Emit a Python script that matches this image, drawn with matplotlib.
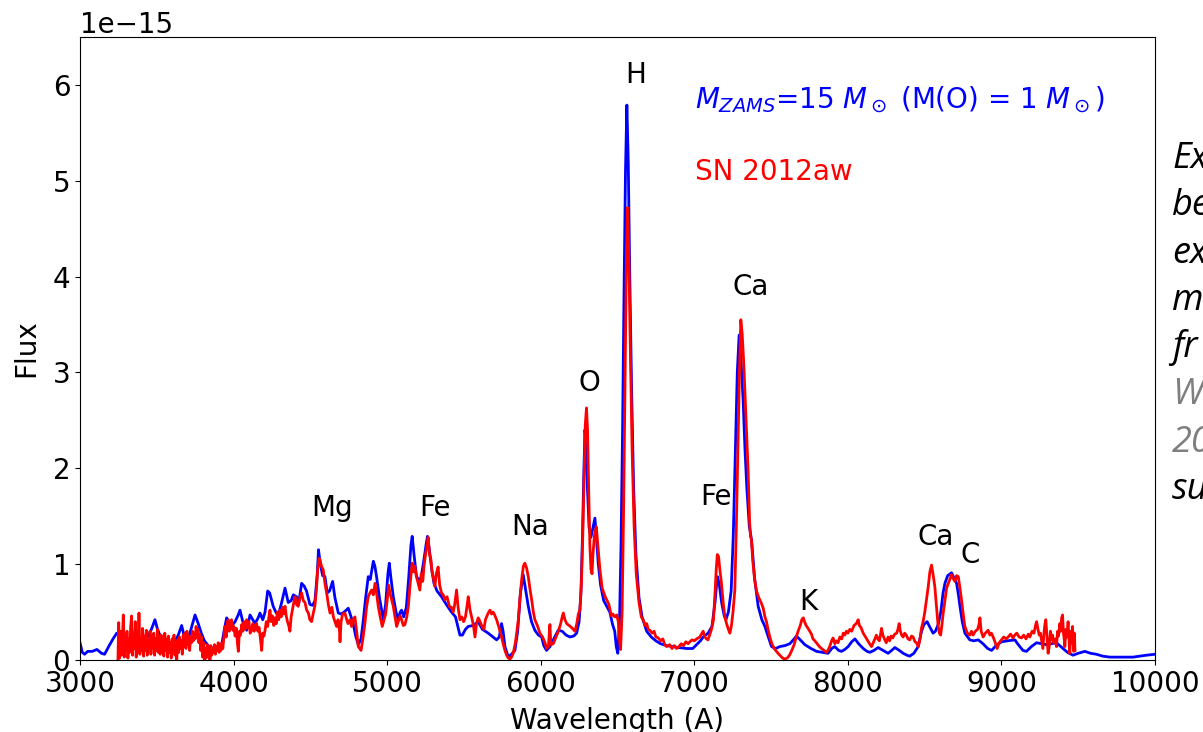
import matplotlib
matplotlib.use("Agg")
import matplotlib.pyplot as plt
import numpy as np

# model spectrum (blue), wavelength in A, flux in 1e-15
model_wave = [
    3000, 3015, 3030, 3050, 3080, 3110, 3140, 3160, 3190, 3215, 3239, 3260, 3290, 3320, 3350, 3380,
    3410, 3440, 3465, 3488, 3505, 3530, 3560, 3590, 3620, 3640, 3662, 3680, 3705, 3730, 3749, 3770,
    3790, 3810, 3840, 3870, 3900, 3925, 3940, 3955, 3975, 3990, 4010, 4030, 4042, 4060, 4085, 4107,
    4125, 4140, 4160, 4172, 4190, 4205, 4222, 4235, 4258, 4275, 4290, 4310, 4335, 4356, 4375, 4389,
    4410, 4425, 4443, 4460, 4475, 4497, 4515, 4530, 4545, 4553, 4565, 4580, 4595, 4610, 4625, 4645,
    4660, 4682, 4700, 4720, 4747, 4765, 4779, 4795, 4812, 4830, 4845, 4860, 4877, 4890, 4910, 4920,
    4931, 4950, 4975, 4990, 5005, 5014, 5025, 5040, 5058, 5072, 5085, 5094, 5108, 5125, 5140, 5155,
    5163, 5175, 5191, 5205, 5220, 5240, 5255, 5263, 5275, 5290, 5305, 5325, 5354, 5385, 5419, 5445,
    5474, 5490, 5510, 5528, 5560, 5593, 5620, 5658, 5690, 5713, 5730, 5745, 5755, 5767, 5789, 5810,
    5832, 5850, 5868, 5886, 5900, 5919, 5940, 5962, 5985, 6006, 6020, 6038, 6060, 6085, 6114, 6140,
    6165, 6190, 6215, 6234, 6250, 6262, 6272, 6280, 6288, 6296, 6304, 6315, 6327, 6340, 6353, 6362,
    6375, 6390, 6410, 6430, 6450, 6468, 6482, 6492, 6502, 6513, 6523, 6533, 6543, 6552, 6561, 6570,
    6580, 6592, 6605, 6620, 6640, 6660, 6690, 6720, 6750, 6780, 6820, 6860, 6900, 6950, 6990, 7015,
    7040, 7058, 7090, 7115, 7135, 7150, 7162, 7178, 7195, 7206, 7222, 7240, 7254, 7266, 7280, 7292,
    7305, 7318, 7330, 7342, 7358, 7373, 7393, 7416, 7440, 7460, 7480, 7503, 7530, 7557, 7590, 7622,
    7645, 7665, 7690, 7720, 7760, 7796, 7835, 7871, 7895, 7915, 7940, 7959, 7980, 8002, 8025, 8046,
    8070, 8100, 8125, 8143, 8170, 8197, 8230, 8262, 8285, 8306, 8335, 8360, 8385, 8403, 8430, 8458,
    8480, 8495, 8516, 8535, 8555, 8570, 8588, 8605, 8620, 8632, 8650, 8675, 8690, 8708, 8720, 8730,
    8745, 8762, 8794, 8820, 8849, 8880, 8910, 8936, 8965, 9001, 9040, 9088, 9105, 9120, 9140, 9163,
    9195, 9229, 9260, 9294, 9325, 9358, 9380, 9401, 9430, 9466, 9500, 9543, 9580, 9618, 9660, 9706,
    9780, 9857, 9900, 9944, 10000,
]
model_flux = [
    0.18, 0.08, 0.06, 0.09, 0.09, 0.11, 0.07, 0.06, 0.15, 0.22, 0.28, 0.25, 0.18, 0.20, 0.22, 0.17,
    0.20, 0.24, 0.32, 0.42, 0.32, 0.22, 0.18, 0.16, 0.20, 0.26, 0.36, 0.24, 0.22, 0.36, 0.47, 0.38,
    0.28, 0.20, 0.14, 0.12, 0.13, 0.18, 0.32, 0.44, 0.38, 0.36, 0.40, 0.47, 0.52, 0.40, 0.31, 0.47,
    0.42, 0.38, 0.44, 0.49, 0.42, 0.50, 0.72, 0.70, 0.56, 0.50, 0.46, 0.58, 0.75, 0.60, 0.62, 0.68,
    0.66, 0.60, 0.80, 0.77, 0.72, 0.58, 0.57, 0.62, 0.90, 1.15, 1.00, 0.88, 0.87, 0.70, 0.72, 0.82,
    0.65, 0.49, 0.48, 0.50, 0.54, 0.45, 0.38, 0.25, 0.16, 0.22, 0.42, 0.65, 0.87, 0.84, 1.03, 0.98,
    0.87, 0.65, 0.42, 0.58, 0.90, 1.01, 0.85, 0.66, 0.50, 0.42, 0.50, 0.52, 0.45, 0.55, 0.85, 1.20,
    1.29, 1.10, 0.87, 0.84, 0.85, 1.05, 1.22, 1.29, 1.15, 0.95, 0.80, 0.72, 0.66, 0.58, 0.50, 0.45,
    0.26, 0.26, 0.32, 0.35, 0.36, 0.40, 0.32, 0.28, 0.24, 0.21, 0.24, 0.38, 0.30, 0.14, 0.03, 0.06,
    0.10, 0.30, 0.70, 0.89, 0.75, 0.56, 0.40, 0.31, 0.26, 0.24, 0.15, 0.10, 0.14, 0.22, 0.31, 0.30,
    0.26, 0.24, 0.25, 0.28, 0.40, 0.70, 1.30, 1.90, 2.40, 2.25, 1.80, 1.38, 1.28, 1.38, 1.48, 1.30,
    1.00, 0.78, 0.62, 0.56, 0.50, 0.37, 0.30, 0.14, 0.07, 0.40, 1.20, 2.40, 3.90, 5.10, 5.79, 5.20,
    4.00, 2.80, 1.80, 1.10, 0.65, 0.45, 0.30, 0.24, 0.20, 0.17, 0.15, 0.14, 0.13, 0.12, 0.12, 0.16,
    0.20, 0.24, 0.28, 0.35, 0.60, 0.87, 0.80, 0.60, 0.46, 0.42, 0.50, 0.72, 1.30, 2.10, 3.00, 3.39,
    3.10, 2.71, 2.20, 1.80, 1.40, 1.25, 0.85, 0.56, 0.42, 0.35, 0.25, 0.14, 0.12, 0.14, 0.15, 0.17,
    0.21, 0.25, 0.21, 0.16, 0.12, 0.09, 0.08, 0.07, 0.12, 0.14, 0.10, 0.09, 0.11, 0.14, 0.19, 0.22,
    0.17, 0.12, 0.09, 0.08, 0.10, 0.13, 0.10, 0.07, 0.10, 0.13, 0.10, 0.07, 0.05, 0.04, 0.07, 0.14,
    0.30, 0.37, 0.40, 0.34, 0.28, 0.30, 0.37, 0.50, 0.70, 0.80, 0.88, 0.91, 0.86, 0.80, 0.68, 0.56,
    0.40, 0.28, 0.21, 0.20, 0.21, 0.17, 0.12, 0.10, 0.15, 0.19, 0.20, 0.21, 0.17, 0.14, 0.10, 0.09,
    0.14, 0.18, 0.17, 0.16, 0.17, 0.18, 0.15, 0.12, 0.08, 0.05, 0.07, 0.09, 0.07, 0.06, 0.04, 0.03,
    0.03, 0.03, 0.04, 0.05, 0.06,
]

# observed spectrum of SN 2012aw (red), flux in 1e-15
sn_wave = [
    3247, 3252, 3258, 3264, 3270, 3276, 3282, 3288, 3294, 3300, 3306, 3312, 3318, 3324, 3330, 3336,
    3342, 3348, 3354, 3360, 3366, 3372, 3378, 3384, 3390, 3396, 3402, 3408, 3414, 3420, 3426, 3432,
    3438, 3444, 3450, 3456, 3462, 3468, 3474, 3480, 3486, 3492, 3498, 3504, 3510, 3516, 3522, 3528,
    3534, 3540, 3546, 3552, 3558, 3564, 3570, 3576, 3582, 3588, 3594, 3600, 3606, 3612, 3618, 3624,
    3630, 3636, 3642, 3648, 3654, 3660, 3666, 3672, 3678, 3684, 3690, 3696, 3702, 3708, 3714, 3720,
    3726, 3732, 3738, 3744, 3750, 3756, 3762, 3768, 3774, 3780, 3786, 3792, 3798, 3804, 3810, 3816,
    3822, 3828, 3834, 3840, 3846, 3852, 3858, 3864, 3870, 3876, 3882, 3888, 3894, 3900, 3906, 3912,
    3918, 3924, 3930, 3936, 3944, 3952, 3960, 3966, 3972, 3980, 3987, 3995, 4002, 4010, 4018, 4025,
    4031, 4038, 4045, 4053, 4060, 4068, 4075, 4085, 4093, 4100, 4108, 4118, 4126, 4134, 4142, 4150,
    4158, 4166, 4175, 4183, 4190, 4198, 4205, 4213, 4222, 4230, 4237, 4245, 4253, 4262, 4270, 4278,
    4286, 4294, 4302, 4310, 4318, 4326, 4335, 4343, 4351, 4359, 4367, 4375, 4383, 4392, 4400, 4410,
    4421, 4432, 4443, 4454, 4465, 4476, 4487, 4497, 4508, 4518, 4530, 4540, 4548, 4556, 4562, 4572,
    4584, 4595, 4606, 4617, 4628, 4640, 4650, 4660, 4671, 4680, 4690, 4693, 4700, 4710, 4725, 4735,
    4745, 4758, 4768, 4778, 4790, 4800, 4812, 4822, 4830, 4842, 4855, 4866, 4877, 4888, 4899, 4910,
    4921, 4931, 4942, 4955, 4968, 4980, 4990, 5000, 5010, 5018, 5028, 5040, 5050, 5062, 5072, 5085,
    5094, 5105, 5116, 5128, 5138, 5150, 5163, 5170, 5180, 5191, 5202, 5213, 5222, 5232, 5240, 5250,
    5260, 5267, 5276, 5285, 5292, 5302, 5311, 5320, 5332, 5342, 5354, 5365, 5376, 5390, 5405, 5418,
    5430, 5440, 5452, 5462, 5474, 5486, 5498, 5510, 5520, 5528, 5540, 5550, 5562, 5572, 5582, 5593,
    5605, 5618, 5630, 5640, 5650, 5658, 5670, 5680, 5690, 5700, 5713, 5728, 5745, 5757, 5767, 5778,
    5789, 5800, 5810, 5821, 5835, 5845, 5854, 5865, 5876, 5887, 5897, 5908, 5919, 5930, 5941, 5952,
    5962, 5978, 5995, 6012, 6028, 6038, 6050, 6060, 6066, 6082, 6100, 6115, 6130, 6140, 6147, 6158,
    6169, 6185, 6200, 6212, 6223, 6235, 6245, 6255, 6265, 6274, 6282, 6290, 6298, 6305, 6312, 6320,
    6327, 6334, 6340, 6350, 6362, 6372, 6385, 6400, 6420, 6444, 6460, 6470, 6482, 6495, 6505, 6512,
    6520, 6530, 6540, 6550, 6558, 6565, 6573, 6583, 6595, 6608, 6622, 6640, 6655, 6667, 6680, 6690,
    6700, 6711, 6725, 6738, 6750, 6766, 6780, 6795, 6808, 6820, 6840, 6855, 6870, 6885, 6900, 6915,
    6930, 6945, 6960, 6971, 6985, 7000, 7015, 7036, 7050, 7058, 7068, 7080, 7089, 7100, 7112, 7125,
    7135, 7143, 7150, 7158, 7166, 7177, 7188, 7199, 7210, 7222, 7232, 7242, 7252, 7264, 7274, 7284,
    7294, 7303, 7312, 7322, 7335, 7350, 7360, 7366, 7372, 7380, 7392, 7405, 7420, 7435, 7449, 7460,
    7470, 7480, 7492, 7505, 7520, 7540, 7557, 7575, 7590, 7605, 7620, 7635, 7650, 7664, 7676, 7690,
    7700, 7710, 7718, 7728, 7741, 7752, 7763, 7773, 7785, 7800, 7815, 7828, 7845, 7860, 7870, 7882,
    7894, 7904, 7915, 7925, 7936, 7948, 7960, 7970, 7980, 7990, 8000, 8013, 8025, 8040, 8055, 8067,
    8075, 8085, 8100, 8115, 8130, 8145, 8154, 8165, 8176, 8186, 8195, 8205, 8212, 8219, 8228, 8238,
    8250, 8262, 8272, 8282, 8292, 8305, 8318, 8326, 8334, 8342, 8350, 8360, 8370, 8380, 8392, 8403,
    8415, 8425, 8437, 8447, 8458, 8468, 8479, 8490, 8501, 8512, 8523, 8534, 8545, 8556, 8566, 8577,
    8588, 8596, 8604, 8612, 8621, 8632, 8643, 8654, 8664, 8675, 8686, 8697, 8708, 8719, 8730, 8740,
    8751, 8762, 8778, 8794, 8805, 8815, 8830, 8845, 8855, 8860, 8868, 8881, 8895, 8913, 8925, 8935,
    8946, 8960, 8972, 8985, 9000, 9015, 9030, 9044, 9060, 9075, 9087, 9100, 9115, 9131, 9145, 9160,
    9175, 9185, 9200, 9212, 9222, 9229, 9238, 9246, 9254, 9262, 9270, 9278, 9284, 9289, 9296, 9304,
    9312, 9319, 9326, 9333, 9340, 9350, 9358, 9366, 9372, 9380, 9386, 9392, 9398, 9404, 9410, 9413,
    9420, 9426, 9434, 9440, 9445, 9452, 9458, 9463, 9468, 9471, 9475, 9479,
]
sn_flux = [
    0.00, 0.39, 0.02, 0.30, 0.05, 0.20, 0.47, 0.03, 0.25, 0.10, 0.30, 0.02, 0.22, 0.08, 0.35, 0.46,
    0.05, 0.28, 0.12, 0.40, 0.03, 0.30, 0.08, 0.49, 0.06, 0.22, 0.10, 0.33, 0.04, 0.25, 0.10, 0.31,
    0.05, 0.20, 0.12, 0.30, 0.06, 0.25, 0.12, 0.28, 0.05, 0.22, 0.10, 0.32, 0.08, 0.24, 0.06, 0.26,
    0.12, 0.20, 0.04, 0.28, 0.10, 0.22, 0.03, 0.25, 0.08, 0.18, 0.02, 0.22, 0.10, 0.26, 0.05, 0.18,
    0.00, 0.21, 0.08, 0.24, 0.12, 0.20, 0.06, 0.26, 0.14, 0.28, 0.12, 0.30, 0.16, 0.25, 0.10, 0.24,
    0.18, 0.30, 0.20, 0.28, 0.22, 0.35, 0.24, 0.32, 0.18, 0.27, 0.10, 0.24, 0.03, 0.18, 0.00, 0.12,
    0.02, 0.16, 0.04, 0.14, 0.00, 0.15, 0.05, 0.12, 0.08, 0.16, 0.06, 0.14, 0.10, 0.18, 0.08, 0.16,
    0.10, 0.18, 0.12, 0.22, 0.35, 0.24, 0.40, 0.42, 0.30, 0.36, 0.42, 0.31, 0.35, 0.25, 0.33, 0.18,
    0.09, 0.30, 0.26, 0.37, 0.30, 0.40, 0.32, 0.42, 0.34, 0.40, 0.28, 0.31, 0.38, 0.30, 0.36, 0.38,
    0.30, 0.34, 0.22, 0.10, 0.28, 0.25, 0.31, 0.40, 0.35, 0.45, 0.52, 0.40, 0.46, 0.36, 0.44, 0.38,
    0.50, 0.42, 0.52, 0.45, 0.55, 0.48, 0.56, 0.46, 0.40, 0.36, 0.30, 0.45, 0.52, 0.60, 0.66, 0.58,
    0.56, 0.65, 0.70, 0.62, 0.60, 0.52, 0.49, 0.42, 0.40, 0.48, 0.57, 0.75, 0.95, 1.06, 1.05, 0.98,
    0.94, 0.80, 0.70, 0.58, 0.49, 0.55, 0.45, 0.40, 0.35, 0.42, 0.30, 0.19, 0.40, 0.48, 0.49, 0.43,
    0.38, 0.42, 0.35, 0.42, 0.45, 0.32, 0.14, 0.12, 0.10, 0.22, 0.38, 0.55, 0.66, 0.70, 0.73, 0.68,
    0.80, 0.70, 0.56, 0.45, 0.35, 0.42, 0.48, 0.62, 0.78, 0.70, 0.64, 0.56, 0.46, 0.35, 0.40, 0.46,
    0.42, 0.36, 0.37, 0.45, 0.56, 0.80, 1.01, 0.92, 0.98, 0.87, 0.80, 0.73, 0.90, 0.82, 0.98, 1.10,
    1.20, 1.28, 1.10, 1.05, 0.92, 0.85, 0.77, 0.90, 0.97, 0.78, 0.70, 0.68, 0.63, 0.66, 0.56, 0.55,
    0.50, 0.58, 0.73, 0.55, 0.42, 0.45, 0.40, 0.45, 0.56, 0.66, 0.52, 0.45, 0.36, 0.24, 0.38, 0.44,
    0.40, 0.35, 0.32, 0.42, 0.46, 0.49, 0.52, 0.48, 0.50, 0.47, 0.42, 0.34, 0.24, 0.16, 0.10, 0.05,
    0.02, 0.01, 0.03, 0.07, 0.18, 0.30, 0.42, 0.65, 0.84, 0.98, 1.01, 0.96, 0.87, 0.74, 0.63, 0.50,
    0.42, 0.36, 0.28, 0.24, 0.18, 0.12, 0.14, 0.37, 0.16, 0.17, 0.24, 0.30, 0.38, 0.45, 0.49, 0.42,
    0.38, 0.36, 0.34, 0.32, 0.30, 0.38, 0.48, 0.52, 0.80, 1.30, 1.90, 2.45, 2.63, 2.40, 1.80, 1.20,
    0.95, 0.90, 1.10, 1.30, 1.39, 1.20, 0.95, 0.75, 0.66, 0.58, 0.46, 0.48, 0.45, 0.47, 0.40, 0.22,
    0.11, 0.50, 1.60, 3.00, 4.20, 4.72, 4.30, 3.30, 2.20, 1.40, 0.90, 0.60, 0.45, 0.42, 0.36, 0.38,
    0.32, 0.31, 0.28, 0.30, 0.24, 0.23, 0.20, 0.22, 0.16, 0.14, 0.16, 0.12, 0.15, 0.12, 0.14, 0.17,
    0.15, 0.19, 0.17, 0.19, 0.21, 0.20, 0.22, 0.24, 0.28, 0.30, 0.24, 0.22, 0.21, 0.26, 0.32, 0.42,
    0.70, 0.95, 1.10, 1.08, 0.95, 0.80, 0.60, 0.45, 0.38, 0.32, 0.28, 0.36, 0.50, 0.73, 1.40, 2.20,
    3.00, 3.55, 3.40, 3.10, 2.60, 2.00, 1.45, 1.29, 1.26, 1.05, 0.85, 0.72, 0.65, 0.60, 0.54, 0.45,
    0.40, 0.32, 0.24, 0.17, 0.12, 0.08, 0.05, 0.02, 0.01, 0.02, 0.05, 0.10, 0.16, 0.24, 0.30, 0.36,
    0.42, 0.44, 0.40, 0.36, 0.33, 0.30, 0.27, 0.22, 0.20, 0.17, 0.14, 0.12, 0.10, 0.08, 0.10, 0.14,
    0.20, 0.23, 0.17, 0.20, 0.18, 0.24, 0.22, 0.28, 0.26, 0.30, 0.28, 0.32, 0.30, 0.36, 0.38, 0.42,
    0.36, 0.34, 0.28, 0.24, 0.20, 0.16, 0.14, 0.18, 0.22, 0.26, 0.22, 0.20, 0.26, 0.33, 0.26, 0.22,
    0.18, 0.24, 0.20, 0.25, 0.23, 0.27, 0.28, 0.32, 0.38, 0.30, 0.26, 0.24, 0.28, 0.26, 0.22, 0.21,
    0.25, 0.24, 0.19, 0.18, 0.14, 0.20, 0.33, 0.40, 0.50, 0.63, 0.76, 0.92, 0.99, 0.88, 0.77, 0.56,
    0.35, 0.28, 0.26, 0.36, 0.49, 0.62, 0.75, 0.80, 0.84, 0.89, 0.85, 0.82, 0.88, 0.87, 0.75, 0.63,
    0.48, 0.35, 0.28, 0.26, 0.30, 0.26, 0.30, 0.32, 0.38, 0.44, 0.30, 0.24, 0.28, 0.31, 0.26, 0.28,
    0.24, 0.18, 0.12, 0.18, 0.21, 0.24, 0.22, 0.24, 0.27, 0.23, 0.26, 0.28, 0.24, 0.23, 0.26, 0.22,
    0.27, 0.24, 0.30, 0.28, 0.36, 0.40, 0.32, 0.26, 0.28, 0.20, 0.12, 0.30, 0.38, 0.42, 0.25, 0.07,
    0.15, 0.30, 0.21, 0.26, 0.18, 0.22, 0.14, 0.30, 0.25, 0.38, 0.30, 0.44, 0.47, 0.28, 0.20, 0.14,
    0.32, 0.24, 0.40, 0.22, 0.07, 0.30, 0.18, 0.35, 0.15, 0.09, 0.28, 0.10,
]

# line identifications: (label, wavelength, flux) -- label centre
line_labels = ["Mg", "Fe", "Na", "O", "H", "Fe", "Ca", "K", "Ca", "C"]
line_wave = [4641, 5311, 5930, 6320, 6620, 7141, 7369, 7740, 8573, 8794]
line_flux = [1.59, 1.59, 1.39, 2.89, 6.10, 1.70, 3.89, 0.60, 1.28, 1.10]

# clipped slide text at the right edge
side_text = ["Ex", "be", "ex", "m", "fr", "W", "20", "su"]
side_color = ["black", "black", "black", "black", "black", "#7f7f7f", "#7f7f7f", "black"]

SCALE = 1e-15

plt.rcParams["font.size"] = 20
plt.rcParams["font.family"] = "DejaVu Sans"

fig = plt.figure(figsize=(12.03, 7.32), dpi=100)
ax = fig.add_axes([80 / 1203, 72 / 732, 1075 / 1203, 623 / 732])

ax.plot(model_wave, np.array(model_flux) * SCALE, color="b", lw=2)
ax.plot(sn_wave, np.array(sn_flux) * SCALE, color="r", lw=2)

ax.set_xlim(3000, 10000)
ax.set_ylim(0, 6.5 * SCALE)
ax.set_xlabel("Wavelength (A)", labelpad=7)
ax.set_ylabel("Flux", labelpad=9)

for lab, w, f in zip(line_labels, line_wave, line_flux):
    ax.text(w, f * SCALE, lab, ha="center", va="center")

ax.text(7004, 5.85 * SCALE, r"$M_{ZAMS}$=15 $M_\odot$ (M(O) = 1 $M_\odot$)",
        color="b", ha="left", va="center")
ax.text(7004, 5.09 * SCALE, "SN 2012aw", color="r", ha="left", va="center")

for i, (txt, col) in enumerate(zip(side_text, side_color)):
    base = 168 + i * 47.3
    fig.text(1172 / 1203, 1 - base / 732, txt, color=col, fontsize=26,
             family="Open Sans", style="italic", ha="left", va="baseline")

fig.savefig("out.png", dpi=100)
